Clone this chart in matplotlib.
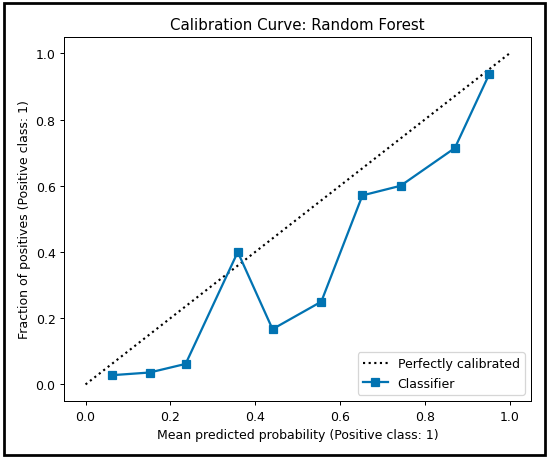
import numpy as np
import matplotlib
matplotlib.use("Agg")
import matplotlib.pyplot as plt
from matplotlib.patches import Rectangle

# calibration curve values
mean_pred = [0.063, 0.151, 0.236, 0.359, 0.441, 0.556, 0.653, 0.743, 0.871, 0.952]
frac_pos = [0.028, 0.036, 0.062, 0.400, 0.167, 0.250, 0.571, 0.600, 0.714, 0.937]
ideal = [0, 1]

DPI = 90
fig = plt.figure(figsize=(550 / DPI, 461 / DPI), dpi=DPI)
ax = fig.add_axes([0.117, 0.128, 0.848, 0.790])

ax.plot(ideal, ideal, 'k:', lw=1.7, label='Perfectly calibrated')
ax.plot(mean_pred, frac_pos, 's-', color='#0173b2', lw=1.8, ms=6.8, label='Classifier')
ax.set_xlim(-0.05, 1.05)
ax.set_ylim(-0.05, 1.05)
ax.set_xticks(np.arange(0, 1.01, 0.2))
ax.set_yticks(np.arange(0, 1.01, 0.2))
ax.set_xlabel('Mean predicted probability (Positive class: 1)')
ax.set_ylabel('Fraction of positives (Positive class: 1)')
ax.set_title('Calibration Curve: Random Forest')
ax.legend(loc='lower right')

# black frame around the picture
fig.patches.append(Rectangle((0.007, 0.011), 0.984, 0.98, transform=fig.transFigure,
                             fill=False, edgecolor='black', linewidth=2.2))

fig.savefig('out.png', dpi=DPI)
